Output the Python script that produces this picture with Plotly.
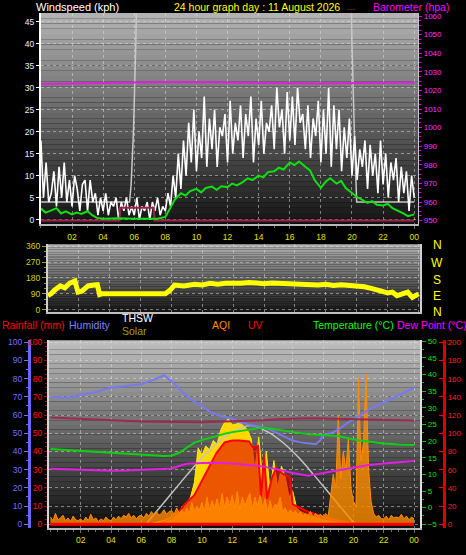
import plotly.graph_objects as go

W, H = 466, 555
def px(x): return x / W
def py(y): return 1 - y / H

FONT = "Liberation Sans, Arial, sans-serif"

# ---------------- data ----------------
hour_ticks = list(range(2, 25, 2))
hour_labels = ["02", "04", "06", "08", "10", "12", "14", "16", "18", "20", "22", "00"]

# wind gust trace (10-minute samples)
gust = [18, 5, 13, 4, 6, 11,
        3, 12, 5, 13, 4, 9,
        3, 10, 7, 2, 8, 9,
        2, 9, 4, 6, 1, 5,
        2, 6, 1, 4, 3, 5,
        0, 4, 2, 5, 1, 3,
        1, 5, 0, 3, 2, 4,
        0, 4, 2, 5, 1, 3,
        2, 6, 3, 10, 5, 15,
        7, 18, 10, 22, 13, 25,
        11, 20, 14, 28, 12, 23,
        16, 25, 12, 21, 19, 24,
        13, 27, 15, 22, 18, 26,
        14, 24, 19, 28, 13, 23,
        17, 27, 15, 22, 20, 26,
        16, 30, 21, 25, 15, 29,
        18, 28, 17, 30, 22, 24,
        16, 26, 14, 23, 19, 27,
        13, 25, 15, 30, 12, 26,
        16, 25, 11, 21, 14, 23,
        10, 19, 9, 16, 12, 18,
        7, 17, 10, 15, 6, 18,
        8, 15, 5, 13, 9, 14,
        4, 12, 6, 11, 2, 10,
        5]
gust_t = [i / 6 for i in range(len(gust))]

wind_t = [0, 0.3, 0.6, 1, 1.3, 1.6, 2, 2.3, 2.6, 3, 3.3, 3.6, 4, 5, 6, 7, 7.5, 8, 8.3, 8.6,
          9, 9.3, 9.6, 10, 10.3, 10.6, 11, 11.3, 11.6, 12, 12.3, 12.6, 13, 13.3, 13.6, 14, 14.3,
          14.6, 15, 15.3, 15.6, 16, 16.3, 16.6, 17, 17.3, 17.6, 18, 18.3, 18.6, 19, 19.3, 19.6,
          20, 20.3, 20.6, 21, 21.3, 21.6, 22, 22.3, 22.6, 23, 23.3, 23.6, 24]
wind_avg = [2.5, 1.6, 2.0, 2.6, 1.4, 1.9, 1.2, 1.6, 1.3, 1.9, 1.0, 0.4, 0.2, 0.3, 0.2, 0.3, 0.2,
            0.6, 2.5, 4.5, 6, 5.5, 6.5, 7, 6.2, 7.2, 7.5, 6.8, 7.6, 7.4, 8.2, 7.8, 8.6, 9.4, 9.0,
            10, 9.6, 10.8, 11, 11.8, 11.4, 13, 12.4, 13.2, 12, 11.2, 9, 7.2, 8.6, 9.4, 8.2, 8.8,
            7.2, 6, 5.2, 4.6, 3.8, 4.2, 3.4, 3.2, 3.6, 2.6, 2, 1.4, 0.8, 1.2]

sun_t = [0, 5.7, 5.8, 5.95, 6.1, 6.2, 19.9, 20.0, 20.15, 20.3, 24]
sun_line = [4, 4, 8, 20, 40, 60, 60, 40, 20, 4, 4]

rate_t = [0, 5.05, 5.1, 7.25, 7.3, 24]
rate_line = [-0.2, -0.2, 2.7, 2.7, -0.2, -0.2]

baro_t = list(range(25))
baro = [1023.4, 1023.4, 1023.5, 1023.8, 1024.0, 1024.2, 1024.3, 1024.5, 1024.6, 1024.5,
        1024.4, 1024.3, 1024.1, 1023.9, 1023.8, 1023.7, 1023.6, 1023.6, 1023.7, 1023.8,
        1023.9, 1024.1, 1024.2, 1024.2, 1024.3]

dir_t = [0, 0.2, 0.45, 0.8, 1.1, 1.4, 1.75, 1.95, 2.2, 2.6, 3.0, 3.2, 3.35, 3.5, 7.6, 7.9, 8.2,
         8.8, 9.5, 10, 10.5, 11, 11.5, 12, 12.5, 13, 13.5, 14, 14.5, 15, 15.5, 16, 16.5, 17,
         17.5, 18, 18.5, 19, 19.5, 20, 20.5, 21, 21.3, 21.6, 22, 22.3, 22.6, 23, 23.3, 23.6, 24]
wind_dir = [80, 90, 112, 135, 124, 150, 163, 100, 105, 135, 140, 142, 86, 90, 90, 110, 140, 135,
            145, 140, 150, 145, 150, 148, 150, 155, 150, 148, 152, 150, 155, 150, 148, 145, 140,
            145, 138, 142, 140, 138, 130, 120, 110, 105, 95, 100, 80, 95, 100, 70, 90]

hum_t = [0, 0.5, 1, 1.5, 2, 2.5, 3, 3.5, 4, 4.5, 5, 5.5, 6, 6.5, 7, 7.5, 7.8, 8.2, 8.8, 9.2, 9.8,
         10.5, 11, 11.5, 12, 12.5, 13, 13.5, 14, 14.5, 15, 15.5, 16, 16.5, 17, 17.5, 17.8, 18,
         18.5, 19, 19.5, 20, 20.5, 21, 21.5, 22, 22.5, 23, 23.5, 24]
humidity = [70, 70, 69.5, 70, 71, 72, 72.5, 74, 75, 75.5, 76, 76.5, 77, 78.5, 80, 82, 80, 77, 72,
            69, 66, 62, 60, 59, 58, 56, 55, 54, 53.5, 52, 50, 48, 46, 45, 44.5, 44, 46, 49, 50,
            52, 55, 58, 60, 63, 65, 67, 69, 71, 73, 75]

temp_t = [0, 1, 2, 3, 4, 5, 6, 7, 7.5, 8, 8.5, 9, 9.5, 10, 10.5, 11, 11.5, 12, 12.5, 13, 13.5,
          14, 14.5, 15, 15.5, 16, 16.5, 17, 17.5, 18, 19, 20, 21, 22, 23, 24]
temperature = [17.6, 17.3, 17.0, 16.7, 16.5, 16.2, 15.9, 15.7, 15.5, 15.6, 16.5, 18, 19.5, 20.3,
               21, 21.5, 22.2, 22.7, 23, 23.4, 23.8, 24, 23.8, 23.4, 23, 22.7, 22.4, 22.1, 21.9,
               21.8, 21.5, 20.5, 19.8, 19.3, 19, 18.8]

dew_t = [0, 1, 2, 3, 4, 5, 6, 7, 8, 8.5, 9, 10, 11, 12, 13, 14, 15, 16, 17, 17.5, 18, 18.5, 19,
         20, 21, 22, 23, 24]
dew_point = [11.7, 11.5, 11.4, 11.2, 11.1, 11.2, 11.4, 11.6, 11.8, 12.5, 13.2, 13.4, 13.5, 13.3,
             12.9, 12.4, 11.5, 10.4, 9.6, 10, 10.6, 11, 11.4, 12.2, 12.8, 13.3, 13.7, 14]

indoor_t = list(range(25))
indoor_temp = [27.1, 26.9, 26.6, 26.3, 26.1, 26.0, 25.9, 25.8, 25.7, 25.7, 25.7, 25.8, 25.9,
               26.1, 26.3, 26.6, 26.8, 26.9, 26.8, 26.7, 26.6, 26.5, 26.4, 26.3, 26.2]

solar = [0, 5, 10, 15, 20, 30, 40, 55, 70, 90, 110, 150, 230, 420,
         380, 430, 410, 460, 440, 520, 560, 580, 545, 550, 560, 540, 520, 470, 300, 480,
         250, 400, 180, 350, 200, 320, 260, 150, 180, 90, 70, 60, 45, 40, 35, 30,
         25, 20, 15, 12, 10, 8, 6, 5, 3, 2, 0]
solar_t = [6.5 + 0.25 * i for i in range(len(solar))]

solar_max_t = [6.3, 7, 8, 9, 10, 11, 12, 13.2, 14.4, 15.4, 16.4, 17.4, 18.4, 19.4, 20.1]
solar_max = [0, 70, 170, 270, 365, 445, 505, 543, 505, 445, 365, 270, 170, 70, 0]

uv_t = [0, 7.0, 7.5, 8, 8.5, 8.85, 9.5, 10.2, 10.95, 11.5, 12, 12.5, 13.1, 13.4, 13.7, 13.9,
        14.1, 14.3, 14.6, 14.9, 15.3, 15.8, 16.0, 16.5, 17, 17.5, 18, 18.5, 19, 19.5, 20, 20.5, 24]
uv = [0, 0, 0.15, 0.35, 0.7, 1.1, 1.6, 2.7, 3.9, 4.5, 4.6, 4.6, 4.55, 4.2, 4.3, 1.5, 3.8, 1.4,
      2.5, 3.1, 2.8, 2.6, 1.1, 0.9, 0.7, 0.55, 0.45, 0.3, 0.2, 0.12, 0.06, 0, 0]

# air quality index, 10-minute samples
aqi = [8, 4, 12, 5, 7, 10,
       4, 7, 3, 9, 5, 4,
       6, 3, 8, 4, 11, 5,
       7, 3, 6, 4, 8, 5,
       4, 8, 5, 9, 6, 10,
       8, 12, 7, 10, 6, 9,
       10, 7, 12, 9, 14, 10,
       14, 10, 12, 16, 11, 14,
       15, 11, 18, 12, 16, 12,
       18, 12, 24, 14, 20, 15,
       24, 14, 30, 15, 26, 17,
       28, 16, 34, 18, 30, 20,
       32, 18, 36, 16, 30, 20,
       28, 34, 16, 30, 20, 32,
       18, 28, 14, 26, 15, 22,
       20, 30, 14, 18, 12, 16,
       12, 15, 10, 14, 9, 12,
       10, 14, 8, 12, 9, 11,
       8, 12, 9, 30, 55, 40,
       120, 50, 80, 60, 95, 40,
       25, 20, 160, 70, 90, 165,
       60, 25, 12, 8, 10, 6,
       6, 9, 5, 10, 7, 8,
       7, 11, 6, 9, 5, 8,
       6]
aqi_t = [i / 6 for i in range(len(aqi))]

rain_t = [0, 24]
rain = [0, 0]

# ---------------- figure ----------------
fig = go.Figure()

fig.add_trace(go.Scatter(x=sun_t, y=sun_line, mode="lines", line=dict(color="#c8c8c8", width=1.5), xaxis="x", yaxis="y"))
fig.add_trace(go.Scatter(x=gust_t, y=gust, mode="lines", line=dict(color="#ffffff", width=1.6), xaxis="x", yaxis="y"))
fig.add_trace(go.Scatter(x=rate_t, y=rate_line, mode="lines", line=dict(color="#a0204a", width=2), xaxis="x", yaxis="y"))
fig.add_trace(go.Scatter(x=wind_t, y=wind_avg, mode="lines", line=dict(color="#10e010", width=2), xaxis="x", yaxis="y"))
fig.add_trace(go.Scatter(x=baro_t, y=baro, mode="lines", line=dict(color="#e020e0", width=2), xaxis="x", yaxis="y2"))

fig.add_trace(go.Scatter(x=dir_t, y=wind_dir, mode="lines", line=dict(color="#ffff00", width=5), xaxis="x2", yaxis="y5"))

fig.add_trace(go.Scatter(x=solar_t, y=solar, mode="lines", fill="tozeroy", fillcolor="#ffd800",
                         line=dict(color="#ffe800", width=1), xaxis="x3", yaxis="y6"))
fig.add_trace(go.Scatter(x=solar_max_t, y=solar_max, mode="lines", line=dict(color="#c4c4c4", width=1.5, shape="spline"), xaxis="x3", yaxis="y6"))
fig.add_trace(go.Scatter(x=uv_t, y=uv, mode="lines", fill="tozeroy", fillcolor="rgba(225,0,0,0.6)",
                         line=dict(color="#ff0000", width=2), xaxis="x3", yaxis="y7"))
fig.add_trace(go.Scatter(x=aqi_t, y=aqi, mode="lines", fill="tozeroy", fillcolor="rgba(255,140,0,0.8)",
                         line=dict(color="#ff8c00", width=1), xaxis="x3", yaxis="y8"))
fig.add_trace(go.Scatter(x=hum_t, y=humidity, mode="lines", line=dict(color="#7878f0", width=2), xaxis="x3", yaxis="y9"))
fig.add_trace(go.Scatter(x=rain_t, y=rain, mode="lines", line=dict(color="#ff0000", width=3), xaxis="x3", yaxis="y10"))
fig.add_trace(go.Scatter(x=indoor_t, y=indoor_temp, mode="lines", line=dict(color="#a02850", width=2), xaxis="x3", yaxis="y11"))
fig.add_trace(go.Scatter(x=temp_t, y=temperature, mode="lines", line=dict(color="#10d010", width=2), xaxis="x3", yaxis="y11"))
fig.add_trace(go.Scatter(x=dew_t, y=dew_point, mode="lines", line=dict(color="#e020e0", width=2), xaxis="x3", yaxis="y11"))

GRID = "rgba(225,225,225,0.5)"
TF = lambda c, s=8.5: dict(color=c, size=s, family=FONT)

# background gradients
shapes = []
def bands(xr, yr, top, bottom, n=40):
    for i in range(n):
        lvl = int(round(top + (bottom - top) * (i + 0.5) / n))
        shapes.append(dict(type="rect", xref=xr, yref=yr, x0=0, x1=1, y0=1 - (i + 1) / n, y1=1 - i / n,
                           fillcolor=f"rgb({lvl},{lvl},{lvl})", line=dict(width=0), layer="below"))
bands("x domain", "y domain", 180, 20)
bands("x2 domain", "y5 domain", 178, 22)
bands("x3 domain", "y6 domain", 192, 12)

fig.update_layout(
    width=W, height=H, margin=dict(l=0, r=0, t=0, b=0),
    paper_bgcolor="#000000", plot_bgcolor="#000000",
    showlegend=False, hovermode=False, shapes=shapes,
    font=dict(family=FONT),
    # ---- top panel ----
    xaxis=dict(domain=[px(41), px(419)], range=[0, 24.25], anchor="y",
               tickmode="array", tickvals=hour_ticks, ticktext=hour_labels, tickfont=TF("#e0e000"),
               ticks="outside", ticklen=3, tickcolor="#707070", ticklabelstandoff=1,
               minor=dict(dtick=1, tick0=0, ticks="outside", ticklen=2, tickcolor="#707070"),
               showline=True, linecolor="#b8b8b8", linewidth=2,
               showgrid=True, gridcolor=GRID, griddash="dot", zeroline=False),
    yaxis=dict(domain=[py(223), py(10)], range=[-0.9, 47.0], anchor="x",
               tickmode="array", tickvals=list(range(0, 50, 5)), tickfont=TF("#e8f0ff"),
               ticks="outside", ticklen=3, tickcolor="#ffffff",
               showline=True, linecolor="#ffffff", linewidth=2,
               showgrid=True, gridcolor=GRID, griddash="dot", zeroline=False),
    yaxis2=dict(overlaying="y", side="right", anchor="x", range=[948.4, 1061.7],
                tickmode="array", tickvals=list(range(950, 1070, 10)), tickfont=TF("#ff30ff", 8),
                ticks="outside", ticklen=3, tickcolor="#e000e0",
                minor=dict(dtick=2.5, tick0=950, ticks="outside", ticklen=2, tickcolor="#e000e0"),
                showline=True, linecolor="#c8c8c8", linewidth=1, showgrid=False, zeroline=False),
    yaxis3=dict(overlaying="y", anchor="free", position=px(20.5), side="left", range=[-0.29, 15.15],
                tickmode="array", tickvals=list(range(0, 16)), tickfont=TF("#d01040"),
                ticks="inside", ticklen=3, tickcolor="#d01040",
                showline=True, linecolor="#a8103c", linewidth=3, showgrid=False, zeroline=False),
    yaxis4=dict(overlaying="y", anchor="free", position=px(20.5), side="left", range=[-6.05, 50.0],
                tickmode="array", tickvals=list(range(-5, 50, 5)), tickfont=TF("#c8dcff"),
                ticks="", showline=False, showgrid=False, zeroline=False),
    # ---- middle panel ----
    xaxis2=dict(domain=[px(48), px(421)], range=[0, 24.1], anchor="y5",
                tickmode="linear", tick0=0, dtick=2, showticklabels=False, ticks="",
                showline=True, linecolor="#c0c0c0", linewidth=2,
                showgrid=True, gridcolor=GRID, griddash="dot", zeroline=False),
    yaxis5=dict(domain=[py(312), py(244)], range=[-11, 371], anchor="x2",
                tickmode="array", tickvals=[0, 90, 180, 270, 360], tickfont=TF("#d4d400"),
                ticks="outside", ticklen=4, tickcolor="#a0a000",
                minor=dict(dtick=30, tick0=0, ticks="outside", ticklen=2, tickcolor="#a0a000"),
                showline=True, linecolor="#d0d0d0", linewidth=2, mirror=True,
                showgrid=True, gridcolor=GRID, griddash="dot", zeroline=False),
    # ---- bottom panel ----
    xaxis3=dict(domain=[px(49), px(421)], range=[-0.1, 24.4], anchor="y6",
                tickmode="array", tickvals=hour_ticks, ticktext=hour_labels, tickfont=TF("#e0e000"),
                ticks="outside", ticklen=3, tickcolor="#707070",
                minor=dict(dtick=0.5, tick0=0, ticks="outside", ticklen=2, tickcolor="#707070"),
                showline=True, linecolor="#b8b8b8", linewidth=2,
                showgrid=True, gridcolor=GRID, griddash="dot", zeroline=False),
    yaxis6=dict(domain=[py(531), py(341)], range=[-22, 1011], anchor="x3",
                tickmode="linear", tick0=0, dtick=100, showticklabels=False, ticks="",
                showline=False, showgrid=True, gridcolor=GRID, griddash="dot", zeroline=False),
    yaxis7=dict(overlaying="y6", anchor="free", position=px(441.5), side="right", range=[-0.217, 10.11],
                tickmode="array", tickvals=list(range(0, 11)), tickfont=TF("#b00000", 8),
                ticks="", showline=False, showgrid=False, zeroline=False),
    yaxis8=dict(overlaying="y6", anchor="free", position=px(445), side="right", range=[-4.35, 202.2],
                tickmode="array", tickvals=list(range(0, 220, 20)), tickfont=TF("#ff2020", 8),
                ticks="inside", ticklen=4, tickcolor="#ff0000",
                showline=True, linecolor="#e00000", linewidth=3, showgrid=False, zeroline=False),
    yaxis9=dict(overlaying="y6", anchor="free", position=px(29), side="left", range=[-2.2, 101.1],
                tickmode="array", tickvals=list(range(0, 110, 10)), tickfont=TF("#7070ff"),
                ticks="outside", ticklen=4, tickcolor="#7070ff",
                minor=dict(dtick=5, tick0=0, ticks="outside", ticklen=2, tickcolor="#7070ff"),
                showline=True, linecolor="#6868f8", linewidth=3, showgrid=False, zeroline=False),
    yaxis10=dict(overlaying="y6", anchor="x3", side="left", range=[-2.2, 101.1],
                 tickmode="array", tickvals=list(range(0, 110, 10)), tickfont=TF("#ff1010"),
                 ticks="outside", ticklen=3, tickcolor="#a01010",
                 minor=dict(dtick=2.5, tick0=0, ticks="outside", ticklen=2, tickcolor="#a01010"),
                 showline=True, linecolor="#d8d8d8", linewidth=2, showgrid=False, zeroline=False),
    yaxis11=dict(overlaying="y6", anchor="x3", side="right", range=[-6.2, 50.3],
                 tickmode="array", tickvals=list(range(-5, 55, 5)), tickfont=TF("#10e010", 8),
                 ticks="outside", ticklen=4, tickcolor="#10c010",
                 minor=dict(dtick=2.5, tick0=0, ticks="outside", ticklen=2, tickcolor="#10c010"),
                 showline=True, linecolor="#e0e0e0", linewidth=2, showgrid=False, zeroline=False),
    yaxis12=dict(overlaying="y6", anchor="free", position=px(32.5), side="left", range=[0, 1],
                 showticklabels=False, ticks="", showline=True, linecolor="#e00000", linewidth=2,
                 showgrid=False, zeroline=False),
)

def label(text, x, y, color, size=10.5, xanchor="left"):
    fig.add_annotation(text=text, x=px(x), y=py(y), xref="paper", yref="paper", showarrow=False,
                       xanchor=xanchor, yanchor="middle", font=dict(color=color, size=size, family=FONT))

label("Windspeed (kph)", 34, 4.5, "#ffffff", 11)
label("24 hour graph day : 11 August 2026", 172, 4.5, "#ffff00")
label("---", 346, 6, "#c03030", 8)
label("Barometer (hpa)", 372, 4.5, "#ff00ff")

for letter, yy in zip(["N", "W", "S", "E", "N"], [245, 263, 280, 296, 312]):
    label(letter, 438, yy, "#ffff00", 12, xanchor="center")

label("Rainfall (mm)", 0, 326, "#ff0000")
label("Humidity", 67, 326, "#8080ff")
label("THSW", 120, 318, "#ffffff")
label("Solar", 120, 332, "#a0a000")
label("AQI", 210, 326, "#ff8c00")
label("UV", 247, 326, "#ff0000")
label("Temperature (°C)", 312, 326, "#00ff00")
label("Dew Point (°C)", 396, 326, "#ff00ff")

fig.write_html("out.html", config={"displayModeBar": False, "staticPlot": True},
               post_script="document.body.style.margin='0px';document.body.style.padding='0px';"
                           "document.body.style.overflow='hidden';document.body.style.background='#000';")
